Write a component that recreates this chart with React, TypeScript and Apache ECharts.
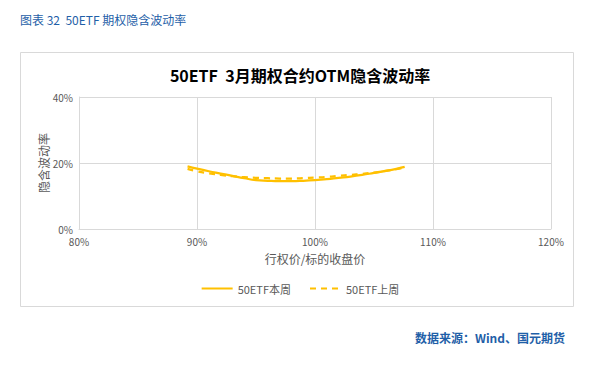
import React, { useEffect, useRef } from "react";
import * as echarts from "echarts";

const moneyness = [89.2, 90, 91, 92, 93, 94, 95, 96, 97, 98, 99, 100, 101, 102, 103, 104, 105, 106, 107, 107.6];
const thisWeek = [19.0, 18.3, 17.5, 16.8, 16.1, 15.4, 14.8, 14.6, 14.5, 14.5, 14.6, 14.8, 15.1, 15.5, 15.9, 16.4, 17.0, 17.6, 18.3, 18.8];
const lastWeek = [18.2, 17.5, 16.9, 16.4, 16.0, 15.7, 15.5, 15.4, 15.3, 15.3, 15.4, 15.6, 15.8, 16.1, 16.4, 16.7, 17.1, 17.6, 18.2, 18.7];
const seriesNames = ["50ETF本周", "50ETF上周"];

const FONT = "'Noto Sans CJK SC', 'Noto Sans', sans-serif";
const GOLD = "#FFC000";
const GREY = "#595959";

export default function App() {
  const ref = useRef<HTMLDivElement>(null);
  useEffect(() => {
    if (!ref.current) return;
    const chart = echarts.init(ref.current, undefined, { renderer: "svg" });
    chart.setOption({
      animation: false,
      backgroundColor: "#ffffff",
      textStyle: { fontFamily: FONT },
      graphic: [
        {
          type: "text",
          left: 20,
          top: 13,
          style: { text: "图表 32  50ETF 期权隐含波动率", fill: "#1F5FA8", font: `12px ${FONT}` },
        },
        {
          type: "rect",
          shape: { x: 20.5, y: 52.5, width: 553, height: 254 },
          style: { fill: "none", stroke: "#D9D9D9", lineWidth: 1 },
          z: -1,
        },
        {
          type: "text",
          right: 35,
          top: 331,
          style: { text: "数据来源：Wind、国元期货", fill: "#1F5FA8", font: `bold 12px ${FONT}` },
        },
      ],
      title: {
        text: "50ETF  3月期权合约OTM隐含波动率",
        left: "center",
        top: 62,
        textStyle: { fontSize: 16, fontWeight: "bold", color: "#000", fontFamily: FONT },
      },
      legend: {
        bottom: 69,
        left: "center",
        itemWidth: 31,
        itemHeight: 10,
        itemGap: 18,
        itemStyle: { opacity: 0 },
        textStyle: { fontSize: 11, color: GREY, fontFamily: FONT },
        data: seriesNames,
      },
      grid: { left: 79, right: 49, top: 97, bottom: 139 },
      xAxis: {
        type: "value",
        min: 80,
        max: 120,
        interval: 10,
        name: "行权价/标的收盘价",
        nameLocation: "middle",
        nameGap: 23,
        nameMoveOverlap: false,
        nameTextStyle: { fontSize: 12, color: GREY, fontFamily: FONT },
        axisLine: { show: true, lineStyle: { color: "#D9D9D9" } },
        axisTick: { show: false },
        axisLabel: { formatter: "{value}%", fontSize: 10, color: GREY, margin: 7 },
        splitLine: { show: true, lineStyle: { color: "#D9D9D9" } },
      },
      yAxis: {
        type: "value",
        min: 0,
        max: 40,
        interval: 20,
        name: "隐含波动率",
        nameLocation: "middle",
        nameGap: 30,
        nameMoveOverlap: false,
        nameTextStyle: { fontSize: 12, color: GREY, fontFamily: FONT },
        axisLine: { show: true, lineStyle: { color: "#D9D9D9" } },
        axisTick: { show: false },
        axisLabel: { formatter: "{value}%", fontSize: 10, color: GREY, margin: 6 },
        splitLine: { show: true, lineStyle: { color: "#D9D9D9" } },
      },
      series: [
        {
          name: seriesNames[0],
          type: "line",
          smooth: true,
          symbol: "none",
          data: moneyness.map((m, i) => [m, thisWeek[i]]),
          lineStyle: { color: GOLD, width: 2.25 },
          itemStyle: { color: GOLD },
        },
        {
          name: seriesNames[1],
          type: "line",
          smooth: true,
          symbol: "none",
          data: moneyness.map((m, i) => [m, lastWeek[i]]),
          lineStyle: { color: GOLD, width: 2.25, type: [6, 5] },
          itemStyle: { color: GOLD },
        },
      ],
    });
    return () => chart.dispose();
  }, []);
  return (
    <div
      ref={ref}
      style={{ position: "fixed", left: 0, top: 0, width: 600, height: 368, background: "#fff" }}
    />
  );
}
